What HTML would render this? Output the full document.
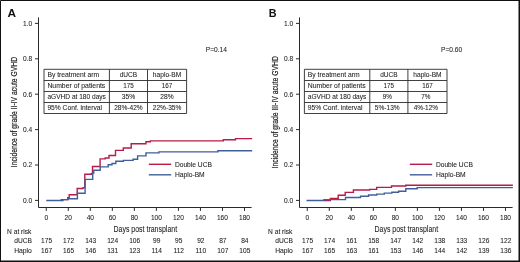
<!DOCTYPE html>
<html><head><meta charset="utf-8"><style>
html,body{margin:0;padding:0;background:#fff;}
svg{display:block;will-change:transform;font-family:"Liberation Sans", sans-serif;}
</style></head><body>
<svg width="520" height="262" viewBox="0 0 520 262">
<path d="M0.5,262V0.5H520" fill="none" stroke="#111" stroke-width="1"/>
<path d="M519.25,0V262M0,261.3H520" stroke="#111" stroke-width="1.5"/>
<g transform="translate(0,0)">
<text x="7.5" y="17.3" font-size="11.8" font-weight="bold" fill="#111">A</text>
<path d="M38.5,17.4V207.5H251.6" fill="none" stroke="#2a2a2a" stroke-width="1"/>
<path d="M35,200.4H38.5M35,165H38.5M35,129.6H38.5M35,94.2H38.5M35,58.8H38.5M35,23.4H38.5M46.25,207.5V210.9M68.28,207.5V210.9M90.31,207.5V210.9M112.33,207.5V210.9M134.36,207.5V210.9M156.39,207.5V210.9M178.42,207.5V210.9M200.45,207.5V210.9M222.47,207.5V210.9M244.5,207.5V210.9" stroke="#2a2a2a" stroke-width="1" fill="none"/>
<text x="32.2" y="202.75" font-size="6.6" text-anchor="end" fill="#222" stroke="#222" stroke-width="0.07">0.0</text>
<text x="32.2" y="167.35" font-size="6.6" text-anchor="end" fill="#222" stroke="#222" stroke-width="0.07">0.2</text>
<text x="32.2" y="131.95" font-size="6.6" text-anchor="end" fill="#222" stroke="#222" stroke-width="0.07">0.4</text>
<text x="32.2" y="96.55" font-size="6.6" text-anchor="end" fill="#222" stroke="#222" stroke-width="0.07">0.6</text>
<text x="32.2" y="61.15" font-size="6.6" text-anchor="end" fill="#222" stroke="#222" stroke-width="0.07">0.8</text>
<text x="32.2" y="25.75" font-size="6.6" text-anchor="end" fill="#222" stroke="#222" stroke-width="0.07">1.0</text>
<text x="46.25" y="219.5" font-size="6.6" text-anchor="middle" fill="#222" stroke="#222" stroke-width="0.07">0</text>
<text x="68.28" y="219.5" font-size="6.6" text-anchor="middle" fill="#222" stroke="#222" stroke-width="0.07">20</text>
<text x="90.31" y="219.5" font-size="6.6" text-anchor="middle" fill="#222" stroke="#222" stroke-width="0.07">40</text>
<text x="112.33" y="219.5" font-size="6.6" text-anchor="middle" fill="#222" stroke="#222" stroke-width="0.07">60</text>
<text x="134.36" y="219.5" font-size="6.6" text-anchor="middle" fill="#222" stroke="#222" stroke-width="0.07">80</text>
<text x="156.39" y="219.5" font-size="6.6" text-anchor="middle" fill="#222" stroke="#222" stroke-width="0.07">100</text>
<text x="178.42" y="219.5" font-size="6.6" text-anchor="middle" fill="#222" stroke="#222" stroke-width="0.07">120</text>
<text x="200.45" y="219.5" font-size="6.6" text-anchor="middle" fill="#222" stroke="#222" stroke-width="0.07">140</text>
<text x="222.47" y="219.5" font-size="6.6" text-anchor="middle" fill="#222" stroke="#222" stroke-width="0.07">160</text>
<text x="244.5" y="219.5" font-size="6.6" text-anchor="middle" fill="#222" stroke="#222" stroke-width="0.07">180</text>
<text transform="translate(17.15,112.05) rotate(-90)" font-size="8.4" text-anchor="middle" textLength="110.3" lengthAdjust="spacingAndGlyphs" fill="#222" stroke="#222" stroke-width="0.2">Incidence of grade II-IV acute GVHD</text>
<text x="205.8" y="52.3" font-size="6.6" fill="#222" stroke="#222" stroke-width="0.07">P=0.14</text>
<path d="M44,69.3H186.6V113.5H44ZM44,80.5H186.6M44,91.5H186.6M44,102.5H186.6M109.4,69.3V113.5M147.5,69.3V113.5" fill="none" stroke="#2a2a2a" stroke-width="0.9"/>
<text x="47.4" y="77.3" font-size="7" textLength="51.8" lengthAdjust="spacingAndGlyphs" fill="#222" stroke="#222" stroke-width="0.07">By treatment arm</text>
<text x="128.45" y="77.3" font-size="7" text-anchor="middle" textLength="17.4" lengthAdjust="spacingAndGlyphs" fill="#222" stroke="#222" stroke-width="0.07">dUCB</text>
<text x="167.05" y="77.3" font-size="7" text-anchor="middle" textLength="28.4" lengthAdjust="spacingAndGlyphs" fill="#222" stroke="#222" stroke-width="0.07">haplo-BM</text>
<text x="47.4" y="88.1" font-size="7" textLength="57.9" lengthAdjust="spacingAndGlyphs" fill="#222" stroke="#222" stroke-width="0.07">Number of patients</text>
<text x="128.45" y="88.1" font-size="7" text-anchor="middle" textLength="10.5" lengthAdjust="spacingAndGlyphs" fill="#222" stroke="#222" stroke-width="0.07">175</text>
<text x="167.05" y="88.1" font-size="7" text-anchor="middle" textLength="10.5" lengthAdjust="spacingAndGlyphs" fill="#222" stroke="#222" stroke-width="0.07">167</text>
<text x="47.4" y="99.1" font-size="7" textLength="58.5" lengthAdjust="spacingAndGlyphs" fill="#222" stroke="#222" stroke-width="0.07">aGVHD at 180 days</text>
<text x="128.45" y="99.1" font-size="7" text-anchor="middle" textLength="13.4" lengthAdjust="spacingAndGlyphs" fill="#222" stroke="#222" stroke-width="0.07">35%</text>
<text x="167.05" y="99.1" font-size="7" text-anchor="middle" textLength="13.4" lengthAdjust="spacingAndGlyphs" fill="#222" stroke="#222" stroke-width="0.07">28%</text>
<text x="47.4" y="109.9" font-size="7" textLength="54.6" lengthAdjust="spacingAndGlyphs" fill="#222" stroke="#222" stroke-width="0.07">95% Conf. interval</text>
<text x="128.45" y="109.9" font-size="7" text-anchor="middle" textLength="28.6" lengthAdjust="spacingAndGlyphs" fill="#222" stroke="#222" stroke-width="0.07">28%-42%</text>
<text x="167.05" y="109.9" font-size="7" text-anchor="middle" textLength="28.6" lengthAdjust="spacingAndGlyphs" fill="#222" stroke="#222" stroke-width="0.07">22%-35%</text>
</g>
<g transform="translate(261,0)">
<text x="7.85" y="17.3" font-size="11.7" font-weight="bold" textLength="7.8" lengthAdjust="spacingAndGlyphs" fill="#111">B</text>
<path d="M38.5,17.4V207.5H251.6" fill="none" stroke="#2a2a2a" stroke-width="1"/>
<path d="M35,200.4H38.5M35,165H38.5M35,129.6H38.5M35,94.2H38.5M35,58.8H38.5M35,23.4H38.5M46.25,207.5V210.9M68.28,207.5V210.9M90.31,207.5V210.9M112.33,207.5V210.9M134.36,207.5V210.9M156.39,207.5V210.9M178.42,207.5V210.9M200.45,207.5V210.9M222.47,207.5V210.9M244.5,207.5V210.9" stroke="#2a2a2a" stroke-width="1" fill="none"/>
<text x="32.2" y="202.75" font-size="6.6" text-anchor="end" fill="#222" stroke="#222" stroke-width="0.07">0.0</text>
<text x="32.2" y="167.35" font-size="6.6" text-anchor="end" fill="#222" stroke="#222" stroke-width="0.07">0.2</text>
<text x="32.2" y="131.95" font-size="6.6" text-anchor="end" fill="#222" stroke="#222" stroke-width="0.07">0.4</text>
<text x="32.2" y="96.55" font-size="6.6" text-anchor="end" fill="#222" stroke="#222" stroke-width="0.07">0.6</text>
<text x="32.2" y="61.15" font-size="6.6" text-anchor="end" fill="#222" stroke="#222" stroke-width="0.07">0.8</text>
<text x="32.2" y="25.75" font-size="6.6" text-anchor="end" fill="#222" stroke="#222" stroke-width="0.07">1.0</text>
<text x="46.25" y="219.5" font-size="6.6" text-anchor="middle" fill="#222" stroke="#222" stroke-width="0.07">0</text>
<text x="68.28" y="219.5" font-size="6.6" text-anchor="middle" fill="#222" stroke="#222" stroke-width="0.07">20</text>
<text x="90.31" y="219.5" font-size="6.6" text-anchor="middle" fill="#222" stroke="#222" stroke-width="0.07">40</text>
<text x="112.33" y="219.5" font-size="6.6" text-anchor="middle" fill="#222" stroke="#222" stroke-width="0.07">60</text>
<text x="134.36" y="219.5" font-size="6.6" text-anchor="middle" fill="#222" stroke="#222" stroke-width="0.07">80</text>
<text x="156.39" y="219.5" font-size="6.6" text-anchor="middle" fill="#222" stroke="#222" stroke-width="0.07">100</text>
<text x="178.42" y="219.5" font-size="6.6" text-anchor="middle" fill="#222" stroke="#222" stroke-width="0.07">120</text>
<text x="200.45" y="219.5" font-size="6.6" text-anchor="middle" fill="#222" stroke="#222" stroke-width="0.07">140</text>
<text x="222.47" y="219.5" font-size="6.6" text-anchor="middle" fill="#222" stroke="#222" stroke-width="0.07">160</text>
<text x="244.5" y="219.5" font-size="6.6" text-anchor="middle" fill="#222" stroke="#222" stroke-width="0.07">180</text>
<text transform="translate(17.15,112.25) rotate(-90)" font-size="8.4" text-anchor="middle" textLength="112.1" lengthAdjust="spacingAndGlyphs" fill="#222" stroke="#222" stroke-width="0.2">Incidence of grade III-IV acute GVHD</text>
<text x="180.1" y="52.3" font-size="6.6" fill="#222" stroke="#222" stroke-width="0.07">P=0.60</text>
<path d="M43.4,69.3H186.0V113.5H43.4ZM43.4,80.5H186.0M43.4,91.5H186.0M43.4,102.5H186.0M108.80000000000001,69.3V113.5M146.9,69.3V113.5" fill="none" stroke="#2a2a2a" stroke-width="0.9"/>
<text x="46.8" y="77.3" font-size="7" textLength="51.8" lengthAdjust="spacingAndGlyphs" fill="#222" stroke="#222" stroke-width="0.07">By treatment arm</text>
<text x="127.85" y="77.3" font-size="7" text-anchor="middle" textLength="17.4" lengthAdjust="spacingAndGlyphs" fill="#222" stroke="#222" stroke-width="0.07">dUCB</text>
<text x="166.45" y="77.3" font-size="7" text-anchor="middle" textLength="28.4" lengthAdjust="spacingAndGlyphs" fill="#222" stroke="#222" stroke-width="0.07">haplo-BM</text>
<text x="46.8" y="88.1" font-size="7" textLength="57.9" lengthAdjust="spacingAndGlyphs" fill="#222" stroke="#222" stroke-width="0.07">Number of patients</text>
<text x="127.85" y="88.1" font-size="7" text-anchor="middle" textLength="10.5" lengthAdjust="spacingAndGlyphs" fill="#222" stroke="#222" stroke-width="0.07">175</text>
<text x="166.45" y="88.1" font-size="7" text-anchor="middle" textLength="10.5" lengthAdjust="spacingAndGlyphs" fill="#222" stroke="#222" stroke-width="0.07">167</text>
<text x="46.8" y="99.1" font-size="7" textLength="58.5" lengthAdjust="spacingAndGlyphs" fill="#222" stroke="#222" stroke-width="0.07">aGVHD at 180 days</text>
<text x="126.25" y="99.1" font-size="7" text-anchor="middle" textLength="9.2" lengthAdjust="spacingAndGlyphs" fill="#222" stroke="#222" stroke-width="0.07">9%</text>
<text x="164.85" y="99.1" font-size="7" text-anchor="middle" textLength="9.2" lengthAdjust="spacingAndGlyphs" fill="#222" stroke="#222" stroke-width="0.07">7%</text>
<text x="46.8" y="109.9" font-size="7" textLength="54.6" lengthAdjust="spacingAndGlyphs" fill="#222" stroke="#222" stroke-width="0.07">95% Conf. interval</text>
<text x="126.25" y="109.9" font-size="7" text-anchor="middle" textLength="24.8" lengthAdjust="spacingAndGlyphs" fill="#222" stroke="#222" stroke-width="0.07">5%-13%</text>
<text x="164.85" y="109.9" font-size="7" text-anchor="middle" textLength="24.4" lengthAdjust="spacingAndGlyphs" fill="#222" stroke="#222" stroke-width="0.07">4%-12%</text>
</g>
<g transform="translate(0,0)">
<path d="M148.8,164.3H171.2" stroke="#b81b47" stroke-width="1.4"/>
<path d="M148.8,174.8H171.2" stroke="#405f9a" stroke-width="1.4"/>
<text x="174.9" y="166.5" font-size="7.3" textLength="37" lengthAdjust="spacingAndGlyphs" fill="#222" stroke="#222" stroke-width="0.07">Double UCB</text>
<text x="174.9" y="176.8" font-size="7.3" textLength="29.8" lengthAdjust="spacingAndGlyphs" fill="#222" stroke="#222" stroke-width="0.07">Haplo-BM</text>
<text x="113.5" y="232" font-size="9" textLength="63.6" lengthAdjust="spacingAndGlyphs" fill="#222" stroke="#222" stroke-width="0.07">Days post transplant</text>
<text x="7.1" y="233.6" font-size="6.6" textLength="24.3" lengthAdjust="spacingAndGlyphs" fill="#222" stroke="#222" stroke-width="0.07">N at risk</text>
<text x="31.9" y="242.6" font-size="6.6" text-anchor="end" textLength="17.7" lengthAdjust="spacingAndGlyphs" fill="#222" stroke="#222" stroke-width="0.07">dUCB</text>
<text x="31.9" y="252.5" font-size="6.6" text-anchor="end" textLength="17.7" lengthAdjust="spacingAndGlyphs" fill="#222" stroke="#222" stroke-width="0.07">Haplo</text>
<text x="46.6" y="242.6" font-size="6.6" text-anchor="middle" fill="#222" stroke="#222" stroke-width="0.07">175</text>
<text x="46.6" y="252.5" font-size="6.6" text-anchor="middle" fill="#222" stroke="#222" stroke-width="0.07">167</text>
<text x="68.63" y="242.6" font-size="6.6" text-anchor="middle" fill="#222" stroke="#222" stroke-width="0.07">172</text>
<text x="68.63" y="252.5" font-size="6.6" text-anchor="middle" fill="#222" stroke="#222" stroke-width="0.07">165</text>
<text x="90.66" y="242.6" font-size="6.6" text-anchor="middle" fill="#222" stroke="#222" stroke-width="0.07">143</text>
<text x="90.66" y="252.5" font-size="6.6" text-anchor="middle" fill="#222" stroke="#222" stroke-width="0.07">146</text>
<text x="112.68" y="242.6" font-size="6.6" text-anchor="middle" fill="#222" stroke="#222" stroke-width="0.07">124</text>
<text x="112.68" y="252.5" font-size="6.6" text-anchor="middle" fill="#222" stroke="#222" stroke-width="0.07">131</text>
<text x="134.71" y="242.6" font-size="6.6" text-anchor="middle" fill="#222" stroke="#222" stroke-width="0.07">106</text>
<text x="134.71" y="252.5" font-size="6.6" text-anchor="middle" fill="#222" stroke="#222" stroke-width="0.07">123</text>
<text x="156.74" y="242.6" font-size="6.6" text-anchor="middle" fill="#222" stroke="#222" stroke-width="0.07">99</text>
<text x="156.74" y="252.5" font-size="6.6" text-anchor="middle" fill="#222" stroke="#222" stroke-width="0.07">114</text>
<text x="178.77" y="242.6" font-size="6.6" text-anchor="middle" fill="#222" stroke="#222" stroke-width="0.07">95</text>
<text x="178.77" y="252.5" font-size="6.6" text-anchor="middle" fill="#222" stroke="#222" stroke-width="0.07">112</text>
<text x="200.8" y="242.6" font-size="6.6" text-anchor="middle" fill="#222" stroke="#222" stroke-width="0.07">92</text>
<text x="200.8" y="252.5" font-size="6.6" text-anchor="middle" fill="#222" stroke="#222" stroke-width="0.07">110</text>
<text x="222.82" y="242.6" font-size="6.6" text-anchor="middle" fill="#222" stroke="#222" stroke-width="0.07">87</text>
<text x="222.82" y="252.5" font-size="6.6" text-anchor="middle" fill="#222" stroke="#222" stroke-width="0.07">107</text>
<text x="244.85" y="242.6" font-size="6.6" text-anchor="middle" fill="#222" stroke="#222" stroke-width="0.07">84</text>
<text x="244.85" y="252.5" font-size="6.6" text-anchor="middle" fill="#222" stroke="#222" stroke-width="0.07">105</text>
</g>
<g transform="translate(261,0)">
<path d="M148.8,164.3H171.2" stroke="#b81b47" stroke-width="1.4"/>
<path d="M148.8,174.8H171.2" stroke="#405f9a" stroke-width="1.4"/>
<text x="174.9" y="166.5" font-size="7.3" textLength="37" lengthAdjust="spacingAndGlyphs" fill="#222" stroke="#222" stroke-width="0.07">Double UCB</text>
<text x="174.9" y="176.8" font-size="7.3" textLength="29.8" lengthAdjust="spacingAndGlyphs" fill="#222" stroke="#222" stroke-width="0.07">Haplo-BM</text>
<text x="113.5" y="232" font-size="9" textLength="63.6" lengthAdjust="spacingAndGlyphs" fill="#222" stroke="#222" stroke-width="0.07">Days post transplant</text>
<text x="7.1" y="233.6" font-size="6.6" textLength="24.3" lengthAdjust="spacingAndGlyphs" fill="#222" stroke="#222" stroke-width="0.07">N at risk</text>
<text x="31.9" y="242.6" font-size="6.6" text-anchor="end" textLength="17.7" lengthAdjust="spacingAndGlyphs" fill="#222" stroke="#222" stroke-width="0.07">dUCB</text>
<text x="31.9" y="252.5" font-size="6.6" text-anchor="end" textLength="17.7" lengthAdjust="spacingAndGlyphs" fill="#222" stroke="#222" stroke-width="0.07">Haplo</text>
<text x="46.6" y="242.6" font-size="6.6" text-anchor="middle" fill="#222" stroke="#222" stroke-width="0.07">175</text>
<text x="46.6" y="252.5" font-size="6.6" text-anchor="middle" fill="#222" stroke="#222" stroke-width="0.07">167</text>
<text x="68.63" y="242.6" font-size="6.6" text-anchor="middle" fill="#222" stroke="#222" stroke-width="0.07">174</text>
<text x="68.63" y="252.5" font-size="6.6" text-anchor="middle" fill="#222" stroke="#222" stroke-width="0.07">165</text>
<text x="90.66" y="242.6" font-size="6.6" text-anchor="middle" fill="#222" stroke="#222" stroke-width="0.07">161</text>
<text x="90.66" y="252.5" font-size="6.6" text-anchor="middle" fill="#222" stroke="#222" stroke-width="0.07">163</text>
<text x="112.68" y="242.6" font-size="6.6" text-anchor="middle" fill="#222" stroke="#222" stroke-width="0.07">158</text>
<text x="112.68" y="252.5" font-size="6.6" text-anchor="middle" fill="#222" stroke="#222" stroke-width="0.07">161</text>
<text x="134.71" y="242.6" font-size="6.6" text-anchor="middle" fill="#222" stroke="#222" stroke-width="0.07">147</text>
<text x="134.71" y="252.5" font-size="6.6" text-anchor="middle" fill="#222" stroke="#222" stroke-width="0.07">153</text>
<text x="156.74" y="242.6" font-size="6.6" text-anchor="middle" fill="#222" stroke="#222" stroke-width="0.07">142</text>
<text x="156.74" y="252.5" font-size="6.6" text-anchor="middle" fill="#222" stroke="#222" stroke-width="0.07">146</text>
<text x="178.77" y="242.6" font-size="6.6" text-anchor="middle" fill="#222" stroke="#222" stroke-width="0.07">138</text>
<text x="178.77" y="252.5" font-size="6.6" text-anchor="middle" fill="#222" stroke="#222" stroke-width="0.07">144</text>
<text x="200.8" y="242.6" font-size="6.6" text-anchor="middle" fill="#222" stroke="#222" stroke-width="0.07">133</text>
<text x="200.8" y="252.5" font-size="6.6" text-anchor="middle" fill="#222" stroke="#222" stroke-width="0.07">142</text>
<text x="222.82" y="242.6" font-size="6.6" text-anchor="middle" fill="#222" stroke="#222" stroke-width="0.07">126</text>
<text x="222.82" y="252.5" font-size="6.6" text-anchor="middle" fill="#222" stroke="#222" stroke-width="0.07">139</text>
<text x="244.85" y="242.6" font-size="6.6" text-anchor="middle" fill="#222" stroke="#222" stroke-width="0.07">122</text>
<text x="244.85" y="252.5" font-size="6.6" text-anchor="middle" fill="#222" stroke="#222" stroke-width="0.07">136</text>
</g>
<path d="M61,200.5H61.3V199.6H67.7V197.8H69.2V194.7H77.2V188.5H83V187.6H84.8V174.3H91.4V173.6H92.5V166.5H100.1V158.9H105.2V158H109V155.5H115.5V150.4H123.3V148H131.2V143.8H146V141.7H150.3V140.9H223.3V139.7H235.5V138.6H252.2" fill="none" stroke="#b81b47" stroke-width="1.4"/>
<path d="M46.25,200.5H63V199.6H68V198.8H77.4V193.3H85.1V179.4H92.7V173H93.8V170.2H100.2V166.9H108.2V164.8H112V163.5H115.8V161.3H123.4V160.4H133.1V159.2H137.6V155.9H146V152.9H158.9V151.9H217.9V150.8H252.2" fill="none" stroke="#405f9a" stroke-width="1.4"/>
<path d="M323.9,200.5H330.3V198.4H338.2V195.3H345.2V192.4H353.4V190H369.6V189.4H376.7V187.4H391.5V186H405.8V185.2H512.9" fill="none" stroke="#b81b47" stroke-width="1.4"/>
<path d="M306.5,200.5H323.9V199.6H345.5V197.5H360.5V196.2H368.6V195H376.7V194.1H384.3V193.1H391.9V192.2H398.6V191.2H405.8V188.8H417.2V187.6H512.9" fill="none" stroke="#405f9a" stroke-width="1.4"/>
</svg>
</body></html>
